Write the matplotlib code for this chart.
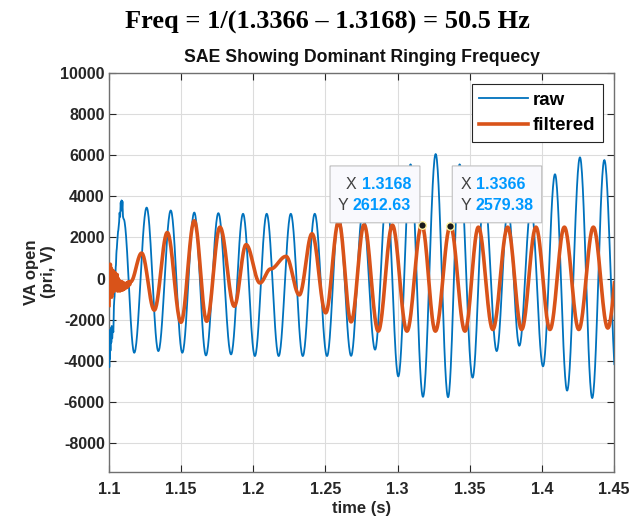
import numpy as np
import matplotlib.pyplot as plt
from matplotlib.patches import FancyBboxPatch

plt.rcParams['font.family'] = ['Liberation Sans', 'DejaVu Sans']
plt.rcParams['axes.unicode_minus'] = False

BLUE = "#0072BD"
ORANGE = "#D95319"
TIP_BLUE = "#0099FF"
AX_GREY = "#262626"

# raw VA: noisy switching transient, then 60 Hz ringing beating with 50 Hz
raw_t = [1.1000, 1.1002, 1.1004, 1.1006, 1.1008, 1.1010, 1.1013, 1.1016,
         1.1019, 1.1022, 1.1026, 1.1030, 1.1034, 1.1038, 1.1042, 1.1047,
         1.1053, 1.1058, 1.1063, 1.1069, 1.1073, 1.1077, 1.1081, 1.1084,
         1.1087, 1.1090, 1.1093, 1.1097, 1.1101,
         1.1175, 1.1261, 1.1342, 1.1428, 1.1508, 1.1591, 1.1672, 1.1758,
         1.1846, 1.1929, 1.2011, 1.2093, 1.2176, 1.2260, 1.2343, 1.2426,
         1.2511, 1.2592, 1.2678, 1.2759, 1.2844, 1.2925, 1.3005, 1.3090,
         1.3176, 1.3264, 1.3350, 1.3430, 1.3520, 1.3600, 1.3687, 1.3765,
         1.3844, 1.3925, 1.4008, 1.4091, 1.4175, 1.4264, 1.4349, 1.4433,
         1.4520]
raw_v = [-2500, -4300, -3000, -3900, -2700, -3500, -2400, -3100,
         -2300, -2900, -2400, -2600, -1300, -900, -200, 600,
         1400, 1900, 2300, 2600, 3200, 3000, 3700, 3300,
         3800, 3400, 3750, 3000, 2900,
         -3600, 3450, -3520, 3310, -3600, 3210, -3730, 3180,
         -3680, 3150, -3760, 3150, -3760, 3150, -3760, 3150,
         -3760, 3150, -3750, 3300, -3450, 4200, -4750, 5550,
         -5740, 6050, -5760, 5550, -4810, 4300, -3520, 3400,
         -3260, 3500, -4260, 5070, -5440, 5890, -5800, 5760,
         -5200]

# filtered VA: noisy start, settling to the dominant ringing component
filt_t = [1.1000, 1.1003, 1.1006, 1.1009, 1.1012, 1.1015, 1.1018, 1.1021,
          1.1024, 1.1027, 1.1030, 1.1033, 1.1036, 1.1040, 1.1044, 1.1048,
          1.1052, 1.1056, 1.1060, 1.1064, 1.1068, 1.1072, 1.1076, 1.1080,
          1.1085, 1.1090, 1.1095, 1.1100, 1.1106, 1.1112, 1.1118, 1.1124,
          1.1130, 1.1136, 1.1142, 1.1150,
          1.1226, 1.1314, 1.1404, 1.1499, 1.1591, 1.1677, 1.1769, 1.1868,
          1.1950, 1.2046, 1.2120, 1.2227, 1.2319, 1.2407, 1.2502, 1.2592,
          1.2678, 1.2768, 1.2866, 1.2964, 1.3065, 1.3168, 1.3262, 1.3366,
          1.3467, 1.3560, 1.3660, 1.3763, 1.3860, 1.3959, 1.4056, 1.4156,
          1.4256, 1.4357, 1.4457, 1.4555]
filt_v = [-1300, 650, -800, 700, -600, 500, -900, 300,
          -700, 400, -500, 200, -600, 300, -400, 100,
          -500, 200, -600, 0, -500, -100, -600, -200,
          -550, -150, -550, -200, -500, -250, -450, -200,
          -400, -150, -300, -150,
          1240, -1530, 2240, -2120, 2810, -2070, 2500, -1340,
          1650, -210, 470, 1080, -790, 2180, -1660, 2780,
          -2100, 2620, -2550, 2600, -2550, 2612.63, -2550, 2579.38,
          -2550, 2500, -2470, 2500, -2470, 2500, -2470, 2500,
          -2470, 2500, -2400, 2500]

tip_t = [1.3168, 1.3366]
tip_v = [2612.63, 2579.38]

xticks = [1.1, 1.15, 1.2, 1.25, 1.3, 1.35, 1.4, 1.45]
xticklabels = ["1.1", "1.15", "1.2", "1.25", "1.3", "1.35", "1.4", "1.45"]
yticks = [-8000, -6000, -4000, -2000, 0, 2000, 4000, 6000, 8000, 10000]


def wave(t, v, per_seg=30):
    """Join successive knots with half-cosine segments."""
    tt, vv = [], []
    for i in range(len(t) - 1):
        s = np.linspace(0, 1, per_seg, endpoint=False)
        w = (1 - np.cos(np.pi * s)) / 2
        tt.append(t[i] + (t[i + 1] - t[i]) * s)
        vv.append(v[i] + (v[i + 1] - v[i]) * w)
    tt.append([t[-1]])
    vv.append([v[-1]])
    return np.concatenate(tt), np.concatenate(vv)


fig = plt.figure(figsize=(6.31, 5.18), dpi=100)
ax = fig.add_axes([109 / 631, 46 / 518, 505 / 631, 399.3 / 518])

rt, rv = wave(raw_t, raw_v)
ft, fv = wave(filt_t, filt_v)
ax.plot(rt, rv, color=BLUE, lw=1.3, label="raw", zorder=3)
ax.plot(ft, fv, color=ORANGE, lw=2.6, label="filtered", zorder=4)

ax.set_xlim(1.1, 1.45)
ax.set_ylim(-9390, 10000)
ax.set_xticks(xticks)
ax.set_xticklabels(xticklabels)
ax.set_yticks(yticks)
ax.grid(True, color="#DCDCDC", lw=0.8)
ax.set_axisbelow(True)
ax.tick_params(direction="in", length=5, width=0.8, color=AX_GREY,
               top=True, right=True, labelsize=11.5, labelcolor=AX_GREY)
ax.tick_params(axis="x", pad=7)
ax.tick_params(axis="y", pad=3)
for lab in ax.get_xticklabels() + ax.get_yticklabels():
    lab.set_fontweight("bold")
for sp in ax.spines.values():
    sp.set_color("#707070")
    sp.set_linewidth(1.0)

fig.text(361.5 / 631, 1 - 509 / 518, "time (s)", ha="center", va="center",
         fontsize=12, fontweight="bold", color=AX_GREY)
fig.text(40 / 631, 1 - 272 / 518, "VA open\n(pri, V)", rotation=90,
         ha="center", va="center", fontsize=12, fontweight="bold",
         color=AX_GREY, linespacing=1.2)

fig.text(327 / 631, 1 - 22 / 518, "Freq = 1/(1.3366 \u2013 1.3168) = 50.5 Hz",
         ha="center", va="center", fontsize=19, fontweight="bold",
         family="Liberation Serif")
fig.text(361.5 / 631, 1 - 58 / 518, "SAE Showing Dominant Ringing Frequecy",
         ha="center", va="center", fontsize=12.7, fontweight="bold",
         color="#111111")

leg = ax.legend(loc="upper right", bbox_to_anchor=(0.978, 0.972),
                borderaxespad=0, fancybox=False, edgecolor=AX_GREY,
                framealpha=1, prop={"weight": "bold", "size": 13.5},
                handlelength=2.6, handletextpad=0.25, borderpad=0.4,
                labelspacing=0.47)
leg.get_frame().set_linewidth(0.8)

# data tips
ax.plot(tip_t, tip_v, "o", ms=5.5, mfc="#1A1A1A", mec="#FFF3A0", mew=1.0,
        zorder=6)
boxes = [(1.2532, 1.3155), (1.3379, 1.3999)]
for (x0, x1) in boxes:
    box = FancyBboxPatch((x0, 2712), x1 - x0, 5473 - 2712,
                         boxstyle="round,pad=0,rounding_size=0.0012",
                         mutation_aspect=1800,
                         fc="#F9F9FD", ec="#C0C0C0", lw=0.8, zorder=7)
    ax.add_patch(box)

fig.canvas.draw()
inv = ax.transData.inverted()

# first tip: lines right-aligned
for i, (lbl, val) in enumerate([("X", f"{tip_t[0]:.4f}"),
                                ("Y", f"{tip_v[0]:.2f}")]):
    yy = 4552 - i * 1000
    t = ax.text(1.3093, yy, val, ha="right", va="center", fontsize=11.5,
                color=TIP_BLUE, fontweight="bold", zorder=8)
    bb = t.get_window_extent(fig.canvas.get_renderer()).transformed(inv)
    ax.text(bb.x0, yy, lbl + " ", ha="right", va="center", fontsize=11.5,
            color="#404040", zorder=8)

# second tip: lines left-aligned
for i, (lbl, val) in enumerate([("X", f"{tip_t[1]:.4f}"),
                                ("Y", f"{tip_v[1]:.2f}")]):
    yy = 4552 - i * 1000
    t = ax.text(1.3437, yy, lbl + " ", ha="left", va="center", fontsize=11.5,
                color="#404040", zorder=8)
    bb = t.get_window_extent(fig.canvas.get_renderer()).transformed(inv)
    ax.text(bb.x1, yy, val, ha="left", va="center", fontsize=11.5,
            color=TIP_BLUE, fontweight="bold", zorder=8)

fig.savefig("out.png", dpi=100, facecolor="white")
